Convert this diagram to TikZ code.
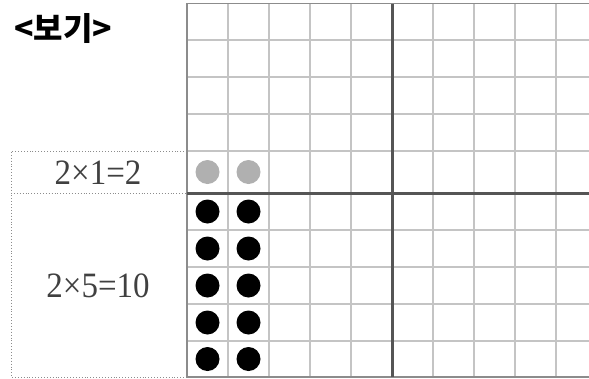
\documentclass[tikz,border=0pt]{standalone}
\usepackage{fontspec}
\usepackage{tikz}
\newfontfamily\krfont{Noto Sans CJK KR}
\newfontfamily\sumfont{Liberation Serif}
\definecolor{linegray}{HTML}{C4C4C4}
\definecolor{edgegray}{HTML}{8C8C8C}
\definecolor{axisgray}{HTML}{555555}
\definecolor{dotgray}{HTML}{B0B0B0}
\definecolor{textgray}{HTML}{404040}

\tikzset{
  gridline/.style={draw=linegray, line width=1.3pt},
  edgeline/.style={draw=edgegray, line width=1.3pt},
  axisline/.style={draw=axisgray, line width=3pt},
  boxline/.style={draw=edgegray, line width=0.9pt, dotted},
  dot/.style={circle, fill=black, minimum size=24pt, inner sep=0pt},
  softdot/.style={dot, fill=dotgray},
  sumlabel/.style={text=textgray, font=\sumfont\fontsize{33}{33}\selectfont, inner sep=0pt}
}

\begin{document}
\begin{tikzpicture}[x=1pt, y=-1pt]
  \useasboundingbox (0,0) rectangle (589,378);

  % grid
  \foreach \gy in {40,77,114,151,230,267,304,341}
    \draw[gridline] (187,\gy) -- (589,\gy);
  \foreach \gx in {228,269,310,351,433,474,515,556}
    \draw[gridline] (\gx,3.5) -- (\gx,377);
  \draw[edgeline] (589,3.5) -- (187,3.5) -- (187,377) -- (589,377);
  \draw[axisline] (187,193) -- (589,193);
  \draw[axisline] (392,3.5) -- (392,377);

  % dotted box on the left
  \coordinate (boxtl) at (11,151);
  \coordinate (boxml) at (11,193);
  \coordinate (boxbl) at (11,377);
  \draw[boxline] (187,151) -- (boxtl) -- (boxbl) -- (187,377);
  \draw[boxline] (boxml) -- (187,193);

  % labels
  \node[inner sep=0pt, font=\krfont\bfseries\fontsize{32}{32}\selectfont] (title) at (63,28) {<보기>};
  \node[sumlabel] (onerow) at (98,173) {\scalebox{1}[1.08]{2×1=2}};
  \node[sumlabel] (fiverows) at (98,286) {\scalebox{1}[1.08]{2×5=10}};

  % dots
  \node[softdot] (g1) at (207.5,172) {};
  \node[softdot] (g2) at (248.5,172) {};
  \foreach \r/\cy in {1/211.5,2/248.5,3/285.5,4/322.5,5/359} {
    \node[dot] (b\r a) at (207.5,\cy) {};
    \node[dot] (b\r b) at (248.5,\cy) {};
  }
\end{tikzpicture}
\end{document}
